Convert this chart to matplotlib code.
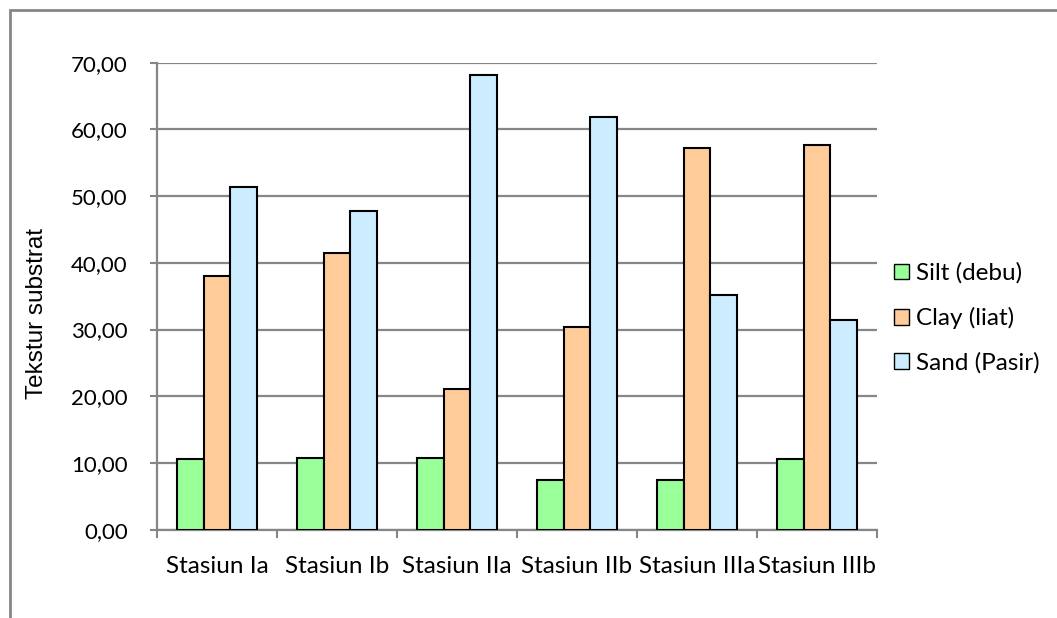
import matplotlib
matplotlib.use("Agg")
import matplotlib.pyplot as plt
from matplotlib.patches import Rectangle
import numpy as np

categories = ["Stasiun Ia", "Stasiun Ib", "Stasiun IIa", "Stasiun IIb", "Stasiun IIIa", "Stasiun IIIb"]
silt = [10.65, 10.70, 10.70, 7.45, 7.45, 10.65]
clay = [38.00, 41.45, 21.10, 30.45, 57.15, 57.65]
sand = [51.30, 47.70, 68.20, 61.90, 35.20, 31.45]
series_names = ["Silt (debu)", "Clay (liat)", "Sand (Pasir)"]
series_colors = ["#99FF99", "#FFCC99", "#CCECFF"]
yticks = [0, 10, 20, 30, 40, 50, 60, 70]

fig = plt.figure(figsize=(10.57, 6.18), dpi=100)
fig.patch.set_facecolor("white")

# chart-area frame
fig.patches.append(Rectangle((10 / 1057, -0.1), 1.2, 1 - 10 / 618 + 0.1,
                             transform=fig.transFigure, fill=False,
                             edgecolor="#868686", linewidth=2.0, zorder=0))

ax = fig.add_axes([157 / 1057, 1 - 529.7 / 618, 720 / 1057, 467 / 618])

x = np.arange(len(categories))
w = 0.2222
for i, (vals, name, col) in enumerate(zip([silt, clay, sand], series_names, series_colors)):
    ax.bar(x + (i - 1) * w, vals, width=w, color=col, edgecolor="black",
           linewidth=1.5, label=name, zorder=3)

ax.set_xlim(-0.5, len(categories) - 0.5)
ax.set_ylim(0, 70)
ax.set_yticks(yticks)
ax.set_yticklabels([f"{v:.2f}".replace(".", ",") for v in yticks],
                   fontfamily="Lato", fontsize=16)
ax.yaxis.grid(True, color="#868686", linewidth=1.6, zorder=0)
ax.set_axisbelow(True)

# category boundaries as major ticks, names on minor ticks
ax.set_xticks(np.arange(-0.5, len(categories), 1.0))
ax.set_xticklabels([])
ax.set_xticks(x, minor=True)
ax.set_xticklabels(categories, minor=True, fontfamily="Lato", fontsize=17.5)
ax.tick_params(axis="x", which="minor", length=0, pad=19)
ax.tick_params(axis="x", which="major", length=6, width=1.5, color="#868686", direction="out")
ax.tick_params(axis="y", length=5, width=1.5, color="#868686", direction="out", pad=16)

for s in ["top", "right"]:
    ax.spines[s].set_visible(False)
for s in ["left", "bottom"]:
    ax.spines[s].set_color("#868686")
    ax.spines[s].set_linewidth(1.6)

ax.set_ylabel("Tekstur substrat", fontfamily="Liberation Sans", fontsize=17.5)
ax.yaxis.set_label_coords(-0.151, 0.4625)

leg = ax.legend(loc="center left", bbox_to_anchor=(0.993, 0.453), frameon=False,
                prop={"family": "Lato", "size": 17.5}, handlelength=0.62,
                handleheight=0.62, handletextpad=0.3, labelspacing=0.95)
for h in leg.legend_handles:
    h.set_linewidth(1.0)

fig.savefig("out.png", dpi=100, facecolor="white")
